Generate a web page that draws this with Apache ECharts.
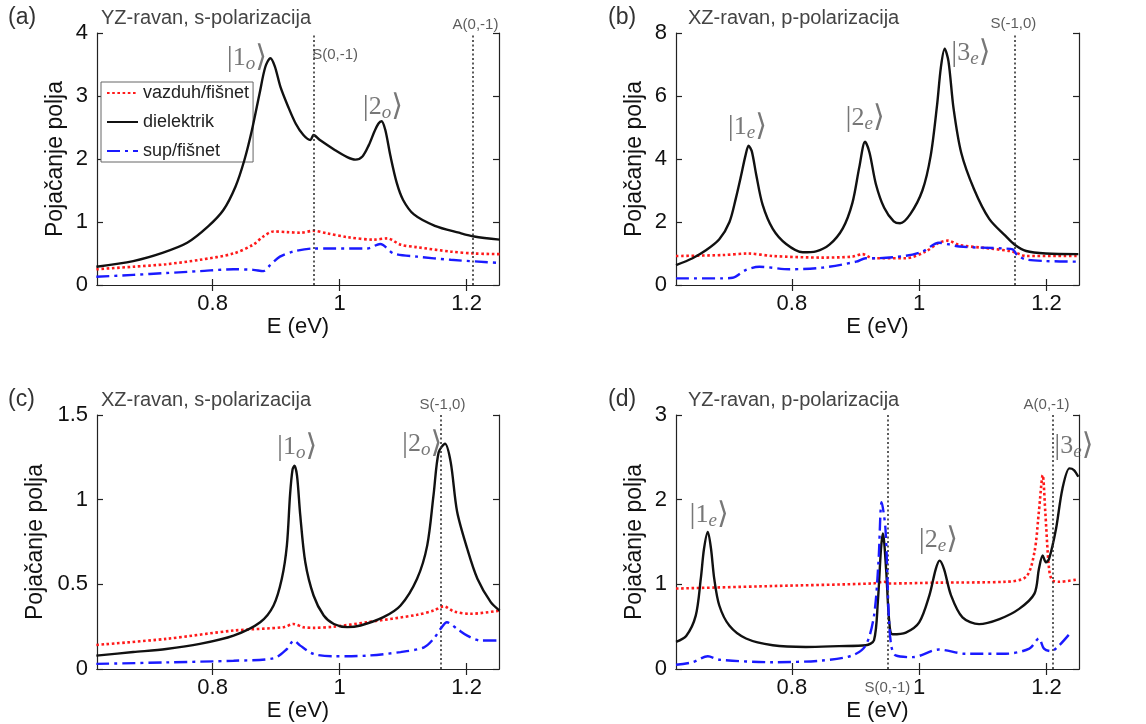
<!DOCTYPE html>
<html>
<head>
<meta charset="utf-8">
<script src="https://cdn.jsdelivr.net/npm/echarts@6/dist/echarts.min.js"></script>
<style>html,body{margin:0;background:#fff}#chart{width:1146px;height:724px}</style>
</head>
<body>
<div id="chart"></div>
<script>
// field enhancement vs photon energy — four panels

const names = ['vazduh/fišnet', 'dielektrik', 'sup/fišnet'];
const xTicks = [0.8, 1, 1.2];

// (a) YZ-ravan, s-polarizacija
const aDiel = [[0.617,0.29],[0.675,0.38],[0.721,0.51],[0.760,0.67],[0.793,0.93],[0.817,1.19],[0.836,1.56],[0.850,1.98],[0.862,2.46],[0.874,3.04],[0.883,3.46],[0.891,3.60],[0.898,3.47],[0.907,3.14],[0.919,2.83],[0.931,2.56],[0.943,2.38],[0.954,2.30],[0.959,2.38],[0.969,2.30],[0.993,2.14],[1.012,2.03],[1.025,1.99],[1.036,2.04],[1.046,2.22],[1.055,2.44],[1.061,2.56],[1.066,2.60],[1.072,2.46],[1.080,2.05],[1.090,1.62],[1.100,1.35],[1.117,1.12],[1.150,0.94],[1.188,0.83],[1.212,0.77],[1.252,0.72]];
const aAir = [[0.617,0.25],[0.675,0.29],[0.727,0.33],[0.780,0.40],[0.833,0.50],[0.864,0.64],[0.880,0.77],[0.896,0.85],[0.917,0.84],[0.938,0.83],[0.959,0.86],[0.980,0.82],[1.012,0.76],[1.054,0.72],[1.075,0.74],[1.096,0.64],[1.122,0.60],[1.175,0.53],[1.212,0.50],[1.252,0.49]];
const aSup = [[0.617,0.13],[0.675,0.16],[0.727,0.19],[0.780,0.22],[0.833,0.25],[0.864,0.24],[0.880,0.22],[0.891,0.32],[0.906,0.45],[0.927,0.53],[0.959,0.58],[0.991,0.58],[1.043,0.58],[1.064,0.65],[1.085,0.50],[1.122,0.45],[1.175,0.40],[1.252,0.35]];
const aLines = [0.959, 1.213];
const aNotes = [[0.854,3.60,'ket','1','o'],[1.068,2.82,'ket','2','o'],[0.993,3.65,'txt','S(0,-1)'],[1.214,4.13,'txt','A(0,-1)']];

// (b) XZ-ravan, p-polarizacija
const bDiel = [[0.618,0.63],[0.644,0.85],[0.665,1.10],[0.686,1.45],[0.702,2.00],[0.712,2.75],[0.720,3.45],[0.727,4.10],[0.732,4.42],[0.737,4.25],[0.744,3.50],[0.754,2.55],[0.770,1.78],[0.791,1.30],[0.817,1.04],[0.838,1.07],[0.859,1.28],[0.880,1.80],[0.895,2.60],[0.906,3.75],[0.915,4.55],[0.922,4.20],[0.932,3.20],[0.945,2.45],[0.960,2.02],[0.970,1.96],[0.986,2.25],[1.005,3.00],[1.018,4.10],[1.028,5.70],[1.034,6.90],[1.040,7.50],[1.046,7.10],[1.054,5.60],[1.066,4.20],[1.086,3.05],[1.110,2.10],[1.136,1.55],[1.150,1.28],[1.168,1.08],[1.199,1.00],[1.250,0.98]];
const bAir = [[0.618,0.92],[0.691,0.95],[0.731,1.00],[0.770,0.92],[0.848,0.87],[0.895,0.90],[0.911,0.98],[0.927,0.85],[0.979,0.85],[1.010,1.06],[1.031,1.34],[1.045,1.41],[1.063,1.27],[1.110,1.16],[1.147,1.06],[1.168,0.92],[1.250,0.92]];
const bSup = [[0.618,0.21],[0.691,0.21],[0.707,0.23],[0.728,0.48],[0.749,0.58],[0.796,0.50],[0.848,0.55],[0.901,0.74],[0.916,0.85],[0.932,0.85],[0.979,0.93],[1.005,1.06],[1.031,1.34],[1.047,1.29],[1.063,1.22],[1.131,1.16],[1.147,1.13],[1.154,0.95],[1.168,0.81],[1.199,0.76],[1.250,0.74]];
const bLines = [1.147];
const bNotes = [[0.730,5.02,'ket','1','e'],[0.915,5.29,'ket','2','e'],[1.081,7.35,'ket','3','e'],[1.148,8.28,'txt','S(-1,0)']];

// (c) XZ-ravan, s-polarizacija
const cDiel = [[0.617,0.079],[0.675,0.10],[0.727,0.118],[0.780,0.148],[0.833,0.197],[0.875,0.276],[0.896,0.375],[0.909,0.533],[0.917,0.73],[0.922,1.03],[0.926,1.18],[0.929,1.20],[0.933,1.14],[0.938,0.91],[0.946,0.63],[0.959,0.434],[0.975,0.316],[0.991,0.266],[1.012,0.247],[1.033,0.257],[1.069,0.306],[1.096,0.375],[1.122,0.533],[1.138,0.73],[1.148,1.03],[1.156,1.28],[1.166,1.33],[1.175,1.22],[1.185,0.93],[1.201,0.71],[1.217,0.533],[1.238,0.395],[1.252,0.345]];
const cAir = [[0.617,0.142],[0.727,0.178],[0.833,0.227],[0.912,0.247],[0.927,0.266],[0.943,0.247],[0.959,0.243],[0.991,0.25],[1.043,0.276],[1.122,0.32],[1.148,0.345],[1.164,0.37],[1.180,0.34],[1.206,0.326],[1.252,0.345]];
const cSup = [[0.617,0.03],[0.727,0.039],[0.833,0.049],[0.896,0.063],[0.917,0.118],[0.928,0.168],[0.938,0.138],[0.959,0.089],[0.991,0.075],[1.043,0.079],[1.096,0.10],[1.133,0.128],[1.148,0.178],[1.159,0.237],[1.169,0.276],[1.185,0.237],[1.201,0.197],[1.222,0.168],[1.252,0.168]];
const cLines = [1.162];
const cNotes = [[0.933,1.31,'ket','1','o'],[1.130,1.33,'ket','2','o'],[1.162,1.56,'txt','S(-1,0)']];

// (d) YZ-ravan, p-polarizacija
const dDiel = [[0.618,0.32],[0.634,0.39],[0.649,0.63],[0.657,1.07],[0.662,1.42],[0.668,1.62],[0.673,1.42],[0.678,1.07],[0.686,0.75],[0.702,0.51],[0.728,0.36],[0.770,0.28],[0.822,0.26],[0.874,0.27],[0.916,0.28],[0.929,0.34],[0.935,0.79],[0.940,1.42],[0.943,1.60],[0.948,1.18],[0.953,0.55],[0.958,0.41],[0.979,0.43],[1.000,0.55],[1.016,0.87],[1.026,1.18],[1.032,1.28],[1.039,1.18],[1.050,0.87],[1.068,0.61],[1.094,0.53],[1.126,0.59],[1.157,0.71],[1.181,0.89],[1.188,1.18],[1.194,1.34],[1.199,1.26],[1.204,1.30],[1.215,1.66],[1.225,2.13],[1.236,2.37],[1.243,2.35],[1.250,2.27]];
const dAir = [[0.618,0.95],[0.770,0.98],[0.927,1.01],[0.945,1.03],[0.953,1.01],[1.031,1.02],[1.136,1.03],[1.168,1.09],[1.181,1.38],[1.188,1.86],[1.194,2.29],[1.198,1.86],[1.204,1.18],[1.209,1.05],[1.220,1.03],[1.250,1.06]];
const dSup = [[0.618,0.05],[0.644,0.08],[0.668,0.15],[0.686,0.11],[0.770,0.08],[0.848,0.10],[0.895,0.16],[0.916,0.28],[0.929,0.63],[0.936,1.26],[0.941,1.97],[0.947,1.66],[0.952,0.67],[0.956,0.28],[0.963,0.16],[0.990,0.14],[1.031,0.23],[1.073,0.18],[1.136,0.18],[1.173,0.24],[1.188,0.36],[1.196,0.24],[1.207,0.21],[1.220,0.28],[1.239,0.44]];
const dLines = [0.950, 1.209];
const dNotes = [[0.670,1.82,'ket','1','e'],[1.030,1.52,'ket','2','e'],[1.243,2.63,'ket','3','e'],[1.200,3.12,'txt','A(0,-1)'],[0.950,-0.22,'txt','S(0,-1)']];

const FONT = '"Liberation Sans", Arial, sans-serif';
const SERIF = '"Liberation Serif", "DejaVu Serif", serif';

const panels = [
    { tag: '(a)', title: 'YZ-ravan, s-polarizacija', grid: { left: 97, top: 33, width: 402, height: 252 },
      ymax: 4, step: 1, yGap: 30, xGap: 28, air: aAir, diel: aDiel, sup: aSup, lines: aLines, notes: aNotes },
    { tag: '(b)', title: 'XZ-ravan, p-polarizacija', grid: { left: 676, top: 33, width: 403, height: 252 },
      ymax: 8, step: 2, yGap: 30, xGap: 28, air: bAir, diel: bDiel, sup: bSup, lines: bLines, notes: bNotes },
    { tag: '(c)', title: 'XZ-ravan, s-polarizacija', grid: { left: 97, top: 415, width: 402, height: 254 },
      ymax: 1.5, step: 0.5, yGap: 50, xGap: 30, air: cAir, diel: cDiel, sup: cSup, lines: cLines, notes: cNotes },
    { tag: '(d)', title: 'YZ-ravan, p-polarizacija', grid: { left: 676, top: 415, width: 403, height: 254 },
      ymax: 3, step: 1, yGap: 30, xGap: 30, air: dAir, diel: dDiel, sup: dSup, lines: dLines, notes: dNotes },
];

const lineStyles = [
    { color: '#ff1a1a', width: 2.6, type: [2.6, 2.6] },
    { color: '#111', width: 2.4, type: 'solid' },
    { color: '#1a1aff', width: 2.4, type: [13, 5, 3, 5] },
];

const axisLine = { show: true, lineStyle: { color: '#222', width: 1.2 } };
const tick = { inside: true, length: 6, lineStyle: { color: '#222', width: 1.2 } };

function ket(n, sub) { return '{k||}{n|' + n + '}{s|' + sub + '}{k|\u27E9}'; }

const option = {
    animation: false,
    backgroundColor: '#fff',
    title: [], grid: [], xAxis: [], yAxis: [], series: [],
    legend: {
        data: names, orient: 'vertical', left: 101, top: 82,
        padding: [2, 4, 2, 5], itemGap: 11, itemWidth: 31, itemHeight: 14,
        borderColor: '#666', borderWidth: 1, backgroundColor: '#fff',
        itemStyle: { opacity: 0 },
        textStyle: { fontFamily: FONT, fontSize: 18, color: '#222' },
    },
};

panels.forEach((p, i) => {
    const g = p.grid;
    option.title.push(
        { text: p.tag, left: g.left - (i % 2 ? 68 : 89), top: g.top - 27, padding: 0,
          textStyle: { fontFamily: FONT, fontSize: 23, fontWeight: 'normal', color: '#333' } },
        { text: p.title, left: g.left + (i % 2 ? 12 : 4), top: g.top - 25, padding: 0,
          textStyle: { fontFamily: FONT, fontSize: 20, fontWeight: 'normal', color: '#444' } });
    option.grid.push(g);

    const xBase = { gridIndex: i, type: 'value', min: 0.618, max: 1.251, axisLine, splitLine: { show: false } };
    option.xAxis.push(
        { ...xBase, position: 'bottom',
          axisTick: { ...tick, customValues: xTicks },
          axisLabel: { customValues: xTicks, fontFamily: FONT, fontSize: 22, color: '#111', margin: 8 },
          name: 'E (eV)', nameLocation: 'middle', nameGap: p.xGap,
          nameTextStyle: { fontFamily: FONT, fontSize: 22, color: '#111' } },
        { ...xBase, position: 'top', axisTick: { ...tick, customValues: xTicks }, axisLabel: { show: false } });

    const yBase = { gridIndex: i, type: 'value', min: 0, max: p.ymax, interval: p.step, axisLine, splitLine: { show: false } };
    option.yAxis.push(
        { ...yBase, position: 'left', axisTick: tick,
          axisLabel: { fontFamily: FONT, fontSize: 22, color: '#111', margin: 9 },
          name: 'Pojačanje polja', nameLocation: 'middle', nameGap: p.yGap,
          nameTextStyle: { fontFamily: FONT, fontSize: 23, color: '#111' } },
        { ...yBase, position: 'right', axisTick: tick, axisLabel: { show: false } });

    const ax = { xAxisIndex: 2 * i, yAxisIndex: 2 * i };
    [p.air, p.diel, p.sup].forEach((data, k) => {
        const s = {
            ...ax, type: 'line', name: names[k], data, showSymbol: false, symbol: 'none',
            smooth: 0.3, lineStyle: lineStyles[k], itemStyle: { color: lineStyles[k].color },
            z: 3 + k,
        };
        if (k === 1) {
            s.markLine = {
                silent: true, symbol: ['none', 'none'], label: { show: false },
                lineStyle: { color: '#333', width: 1.6, type: [2, 2.5] },
                data: p.lines.map(v => ({ xAxis: v })),
            };
        }
        option.series.push(s);
    });

    // text annotations (kets and S/A markers), placed in data space
    option.series.push({
        ...ax, type: 'scatter', name: 'notes', silent: true, clip: false, symbolSize: 0, z: 10,
        data: p.notes.map(n => ({ value: [n[0], n[1]], note: n })),
        label: {
            show: true, position: 'inside',
            formatter: d => d.data.note[2] === 'ket' ? ket(d.data.note[3], d.data.note[4]) : '{t|' + d.data.note[3] + '}',
            rich: {
                k: { fontFamily: SERIF, fontSize: 30, color: '#555', lineHeight: 32 },
                n: { fontFamily: SERIF, fontSize: 26, color: '#555', lineHeight: 32 },
                s: { fontFamily: SERIF, fontSize: 19, fontStyle: 'italic', color: '#555', lineHeight: 32, padding: [12, 0, 0, 0] },
                t: { fontFamily: FONT, fontSize: 15, color: '#333' },
            },
        },
    });
});

const chart = echarts.init(document.getElementById('chart'));
chart.setOption(option);
</script>
</body>
</html>
